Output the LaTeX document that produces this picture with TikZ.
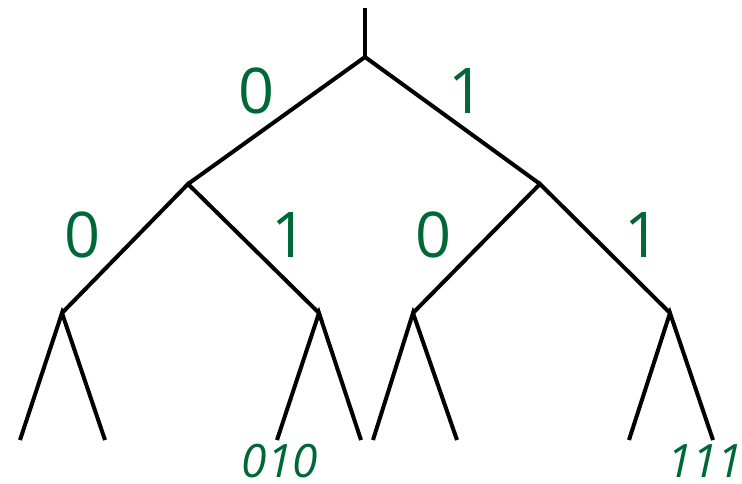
\documentclass[tikz,border=0pt]{standalone}
\usepackage{fontspec}
\setmainfont{Open Sans}
\usetikzlibrary{positioning}
\definecolor{bitGreen}{RGB}{0,104,55}

\begin{document}
\begin{tikzpicture}[
  x=1pt,y=-1pt,
  branch/.style={line width=4pt,black},
  bit/.style={text=bitGreen,font=\fontsize{63}{63}\selectfont,inner sep=0pt},
  code/.style={text=bitGreen,font=\itshape\fontsize{46}{46}\selectfont,inner sep=0pt,text depth=0pt}
]
  \useasboundingbox (0,0) rectangle (742,483);
  % tree points
  \coordinate (top) at (365,8);
  \coordinate (r) at (365,57);
  \coordinate (r0) at (188,184);
  \coordinate (r1) at (540,184);
  \coordinate (r00) at (62,313);
  \coordinate (r01) at (319,313);
  \coordinate (r10) at (413,313);
  \coordinate (r11) at (670,313);
  \coordinate (l000) at (20,440);
  \coordinate (l001) at (105,440);
  \coordinate (l010) at (277,440);
  \coordinate (l011) at (361,440);
  \coordinate (l100) at (373,440);
  \coordinate (l101) at (457,440);
  \coordinate (l110) at (629,440);
  \coordinate (l111) at (713,440);

  \draw[branch] (top) -- (r);
  \draw[branch] (r0) -- (r) -- (r1);
  \draw[branch] (r00) -- (r0) -- (r01);
  \draw[branch] (r10) -- (r1) -- (r11);
  \draw[branch] (l000) -- (r00) -- (l001);
  \draw[branch] (l010) -- (r01) -- (l011);
  \draw[branch] (l100) -- (r10) -- (l101);
  \draw[branch] (l110) -- (r11) -- (l111);

  % edge bits
  \node[bit] (b0) at (257,91) {0};
  \node[bit] (b1) at (467,91) {1};
  \node[bit] (b00) at (83,235) {0};
  \node[bit] (b01) at (290,235) {1};
  \node[bit] (b10) at (434,235) {0};
  \node[bit] (b11) at (643,235) {1};

  % leaf codes
  \node[code,below=4pt of l010,xshift=3pt] (c010) {010};
  \node[code,below=4pt of l111,xshift=-8pt] (c111) {111};
\end{tikzpicture}
\end{document}
